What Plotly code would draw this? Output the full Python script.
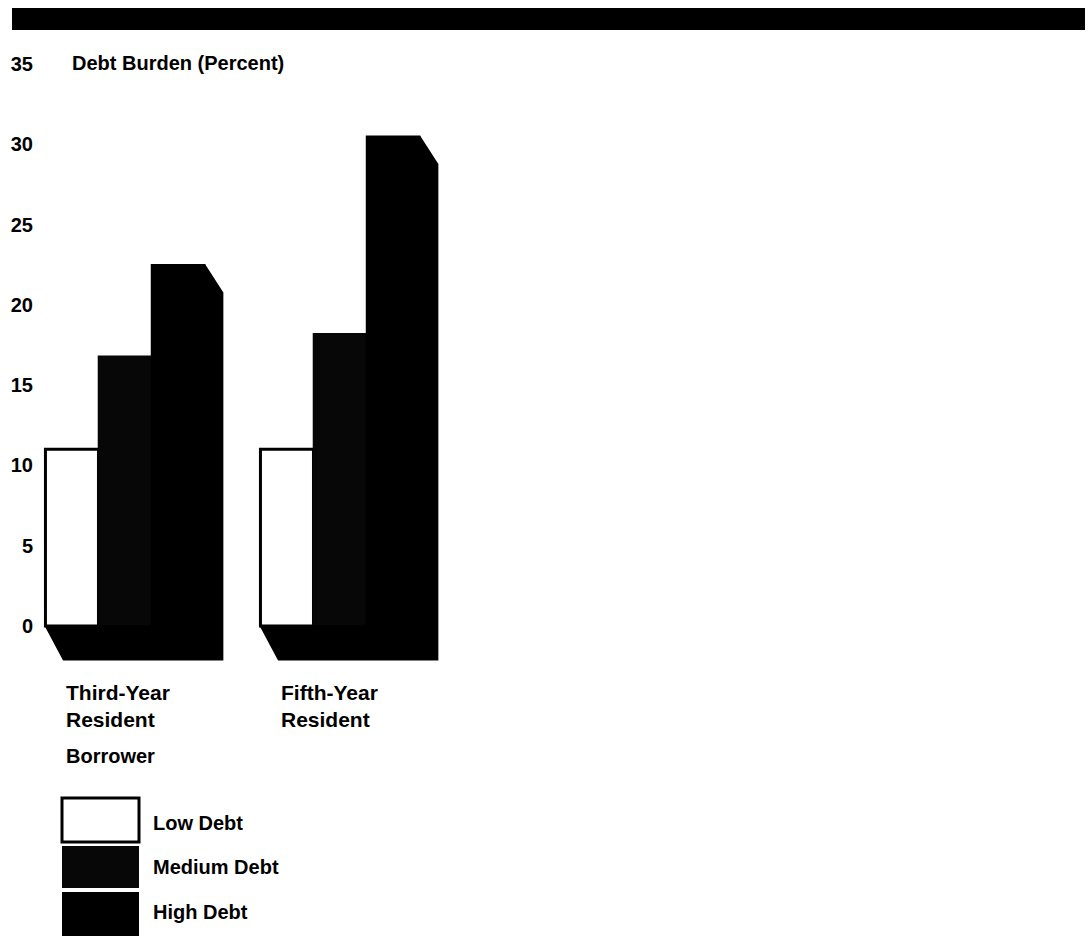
import plotly.graph_objects as go

# ---- data -------------------------------------------------------------
categories = ["Third-Year Resident", "Fifth-Year Resident"]
category_lines = [["Third-Year", "Resident"], ["Fifth-Year", "Resident"]]
series_names = ["Low Debt", "Medium Debt", "High Debt"]
low_debt = [11.0, 11.0]
medium_debt = [16.8, 18.2]
high_debt = [22.5, 30.5]
y_ticks = [0, 5, 10, 15, 20, 25, 30, 35]
y_title = "Debt Burden (Percent)"
x_group_title = "Borrower"

# ---- page geometry ----------------------------------------------------
W, H = 1088, 936
ML = 34                      # left margin holding the y tick labels
PX_PER_UNIT_Y = 16.06
PX_PER_UNIT_X = 215.0
ZERO_PX_Y = 626              # where value 0 sits on the page
FIRST_GROUP_PX_X = 125       # centre of the first bar group

BARGAP = 0.26
DEPTH_X = 0.084              # oblique offset of the 3-D extrusion (x units)
BASE_DROP = 2.1              # floor depth below zero (value units)
TOP_DROP = 1.75              # slant of the top right corner (value units)

FONT = "Liberation Sans, Arial, Helvetica, sans-serif"
INK = "#000000"
MEDIUM_INK = "#070707"

plot_w = W - ML
y0 = -(H - ZERO_PX_Y) / PX_PER_UNIT_Y
y1 = y0 + H / PX_PER_UNIT_Y
x0 = -(FIRST_GROUP_PX_X - ML) / PX_PER_UNIT_X
x1 = x0 + plot_w / PX_PER_UNIT_X


def px_x(px):
    return (px - ML) / plot_w


def px_y(py):
    return 1 - py / H


positions = list(range(len(categories)))
half_group = (1 - BARGAP) / 2

fig = go.Figure()

fig.add_trace(go.Bar(
    x=positions, y=low_debt, name=series_names[0],
    marker=dict(color="#ffffff", line=dict(color=INK, width=3)),
))
fig.add_trace(go.Bar(
    x=positions, y=medium_debt, name=series_names[1],
    marker=dict(color=MEDIUM_INK, line=dict(color=MEDIUM_INK, width=1.5)),
))
fig.add_trace(go.Bar(
    x=positions, y=high_debt, name=series_names[2],
    marker=dict(color=INK, line=dict(color=INK, width=1.5)),
))

# extruded floor and slanted right side of each group
for pos, top in zip(positions, high_debt):
    gl = pos - half_group
    gr = pos + half_group
    xs = [gl, gl + DEPTH_X, gr + DEPTH_X, gr + DEPTH_X, gr, gr, gl]
    ys = [0, -BASE_DROP, -BASE_DROP, top - TOP_DROP, top, 0, 0]
    fig.add_trace(go.Scatter(
        x=xs, y=ys, mode="lines", fill="toself", fillcolor=INK,
        line=dict(color=INK, width=1.5), hoverinfo="skip", showlegend=False,
    ))

annotations = []
shapes = []

# heading band
shapes.append(dict(type="rect", xref="paper", yref="paper",
                   x0=px_x(12), x1=px_x(1085), y0=px_y(30), y1=px_y(8),
                   fillcolor=INK, line=dict(width=0)))

# y axis title beside the top tick
annotations.append(dict(text=y_title, xref="paper", yref="paper",
                        x=px_x(70), y=px_y(63), xanchor="left", yanchor="middle",
                        showarrow=False, font=dict(size=20, weight="bold")))

# category labels under each group
for pos, lines in zip(positions, category_lines):
    left_px = FIRST_GROUP_PX_X + pos * PX_PER_UNIT_X - 61
    annotations.append(dict(text="<br>".join(lines), xref="paper", yref="paper",
                            x=px_x(left_px), y=px_y(706), xanchor="left",
                            yanchor="middle", align="left", showarrow=False,
                            font=dict(size=21, weight="bold")))

annotations.append(dict(text=x_group_title, xref="paper", yref="paper",
                        x=px_x(64), y=px_y(756), xanchor="left", yanchor="middle",
                        showarrow=False, font=dict(size=20, weight="bold")))

# legend key
swatches = [
    dict(fill="#ffffff", line=3, top=798, bottom=842, label_y=823),
    dict(fill=MEDIUM_INK, line=0, top=846, bottom=888, label_y=867),
    dict(fill=INK, line=0, top=892, bottom=936, label_y=912),
]
for name, sw in zip(series_names, swatches):
    shapes.append(dict(type="rect", xref="paper", yref="paper",
                       x0=px_x(62), x1=px_x(139), y0=px_y(sw["bottom"]), y1=px_y(sw["top"]),
                       fillcolor=sw["fill"],
                       line=dict(color=INK, width=sw["line"])))
    annotations.append(dict(text=name, xref="paper", yref="paper",
                            x=px_x(151), y=px_y(sw["label_y"]), xanchor="left",
                            yanchor="middle", showarrow=False,
                            font=dict(size=20, weight="bold")))

fig.update_layout(
    width=W, height=H, autosize=False,
    margin=dict(l=ML, r=0, t=0, b=0, pad=0),
    paper_bgcolor="#ffffff", plot_bgcolor="#ffffff",
    barmode="group", bargap=BARGAP, bargroupgap=0,
    showlegend=False,
    font=dict(family=FONT, color=INK, size=20),
    xaxis=dict(range=[x0, x1], visible=False, fixedrange=True),
    yaxis=dict(range=[y0, y1], tickvals=y_ticks, ticktext=[str(t) for t in y_ticks],
               showgrid=False, zeroline=False, showline=False, ticks="",
               tickfont=dict(size=20, weight="bold", family=FONT, color=INK),
               fixedrange=True),
    shapes=shapes,
    annotations=annotations,
)

fig.write_html("out.html")
